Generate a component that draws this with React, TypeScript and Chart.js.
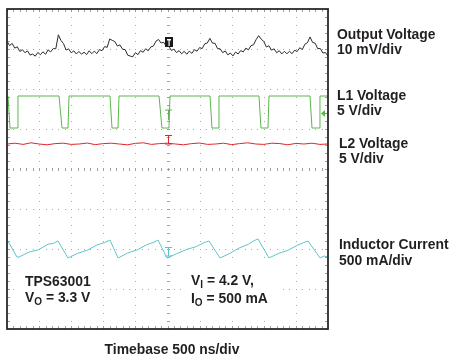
import React, { useEffect, useRef } from "react";
import { Chart, registerables } from "chart.js";

Chart.register(...registerables);

// ---- Scope settings ----
const TIME_PER_DIV_NS = 500;
const H_DIVS = 10;
const V_DIVS = 8;

// ---- Output voltage (mV, AC coupled), sampled every 40 ns ----
const OUT_SAMPLE_NS = 40;
const OUT_POS_DIV = 7.025;
const OUT_MV_PER_DIV = 10;
const OUT_MV = [
  1.7, 0.6, 1.15, -0.03, 0.3, -0.87, -0.43, -1.18, -0.72, -1.77,
  -1.52, -2.04, -1.11, -1.68, -0.95, -1.56, -0.47, -0.97, -0.15, -0.2,
  3.3, 1.9, 1.1, -0.5, -0.22, -1.21, -0.7, -1.5, -0.85, -1.55,
  -1.05, -1.65, -0.7, -1.43, -0.77, -1.4, -0.4, -0.67, 0.35, 0.16,
  2.26, 1.9, 1.6, 0.5, 0.77, -0.32, -0.38, -1.8, -2.02, -2.2,
  -1.17, -1.66, -0.66, -1.07, -0.18, -0.69, 0.27, 0.48, 1.71, 2.13,
  1.25, 1.44, 0.45, 0.51, -0.62, -0.27, -1.16, -0.65, -1.45, -0.82,
  -1.56, -0.79, -1.33, -0.42, -0.8, 0.11, -0.16, 1.04, 1.25, 2.4,
  1.23, 1.18, -0.17, -0.2, -1.17, -0.74, -1.71, -1.27, -1.97, -1.02,
  -1.49, -0.64, -0.98, -0.03, -0.47, 0.57, 0.82, 2.1, 3.08, 2.2,
  1.64, 0.25, 0.56, -0.55, -0.2, -1.19, -0.68, -1.48, -0.82, -1.46,
  -0.8, -1.43, -0.55, -0.89, 0.06, -0.38, 0.94, 1.34, 2.76, 1.4,
  1.2, -0.18, -0.12, -1.25, -1.13, -2.05,
];

// ---- L1 voltage (V) ----
const L1_POS_DIV = 5.025;
const L1_V_PER_DIV = 5;
const L1_T_NS = [
  0, 16, 47, 156, 171,
  810, 857, 950, 966,
  1604, 1636, 1729, 1745,
  2368, 2414, 2523, 2539,
  3162, 3193, 3287, 3302,
  3925, 3956, 4065, 4081,
  4720, 4751, 4860, 4875, 5000,
];
const L1_V = [
  4, 4, 0, 0, 4,
  4, 0, 0, 4,
  4, 0, 0, 4,
  4, 0, 0, 4,
  4, 0, 0, 4,
  4, 0, 0, 4,
  4, 0, 0, 4, 4,
];

// ---- L2 voltage (V), sampled every 125 ns ----
const L2_SAMPLE_NS = 125;
const L2_POS_DIV = 4.625;
const L2_V_PER_DIV = 5;
const L2_V = [
  0, 0.1, -0.05, 0.15, 0, -0.1, 0.05, 0.1, -0.05, 0,
  0.12, -0.08, 0.05, 0.1, 0, -0.1, 0.08, 0.15, -0.05, 0.05,
  0.1, 0, -0.1, 0.05, 0.12, -0.05, 0, 0.1, -0.08, 0.05,
  0.15, 0, -0.05, 0.1, 0.05, -0.1, 0.08, 0, 0.1, -0.05, 0,
];

// ---- Inductor current (mA, relative) ----
const IL_POS_DIV = 2.0;
const IL_MA_PER_DIV = 500;
const IL_T_NS = [
  0, 31, 156, 187, 340, 490, 640, 720, 794,
  950, 1100, 1250, 1400, 1520, 1604,
  1729, 1880, 2030, 2180, 2290, 2352,
  2492, 2640, 2800, 2950, 3070, 3146,
  3318, 3460, 3610, 3760, 3850, 3910,
  4081, 4230, 4380, 4530, 4620, 4689,
  4876, 4938, 5000,
];
const IL_MA = [
  100, 75, -100, -100, -40, -10, 60, 70, 100,
  -112, -55, -15, 50, 80, 112,
  -112, -50, -10, 55, 85, 112,
  -112, -60, -5, 30, 80, 100,
  -112, -60, 10, 60, 105, 125,
  -112, -55, -15, 50, 80, 100,
  -112, -88, -100,
];

const COLORS = {
  out: "#2b2b2b",
  l1: "#5db44f",
  l2: "#e0262b",
  il: "#5fc4c9",
};

const scopePlugin = {
  id: "scopeGrid",
  beforeDatasetsDraw(chart: any) {
    const { ctx, chartArea, scales } = chart;
    const { left, right, top, bottom } = chartArea;
    const x = scales.x;
    const y = scales.y;
    ctx.save();
    // dotted grid
    ctx.fillStyle = "#a8a8a8";
    for (let d = 1; d < H_DIVS; d++) {
      const px = Math.round(x.getPixelForValue(d * TIME_PER_DIV_NS));
      for (let s = 0; s <= V_DIVS * 5; s++) {
        const py = Math.round(y.getPixelForValue(s / 5));
        ctx.fillRect(px, py, 1, 1);
      }
    }
    for (let d = 1; d < V_DIVS; d++) {
      const py = Math.round(y.getPixelForValue(d));
      for (let s = 0; s <= H_DIVS * 5; s++) {
        const px = Math.round(x.getPixelForValue((s / 5) * TIME_PER_DIV_NS));
        ctx.fillRect(px, py, 1, 1);
      }
    }
    // center cross minor ticks + border ticks
    ctx.strokeStyle = "#a0a0a0";
    ctx.lineWidth = 1;
    const cx = Math.round(x.getPixelForValue((H_DIVS / 2) * TIME_PER_DIV_NS)) + 0.5;
    const cy = Math.round(y.getPixelForValue(V_DIVS / 2)) + 0.5;
    ctx.beginPath();
    for (let s = 0; s <= H_DIVS * 5; s++) {
      const px = Math.round(x.getPixelForValue((s / 5) * TIME_PER_DIV_NS)) + 0.5;
      ctx.moveTo(px, cy - 1.5);
      ctx.lineTo(px, cy + 1.5);
      ctx.moveTo(px, top);
      ctx.lineTo(px, top + 3);
      ctx.moveTo(px, bottom);
      ctx.lineTo(px, bottom - 3);
    }
    for (let s = 0; s <= V_DIVS * 5; s++) {
      const py = Math.round(y.getPixelForValue(s / 5)) + 0.5;
      ctx.moveTo(cx - 1.5, py);
      ctx.lineTo(cx + 1.5, py);
      ctx.moveTo(left, py);
      ctx.lineTo(left + 3, py);
      ctx.moveTo(right, py);
      ctx.lineTo(right - 3, py);
    }
    ctx.stroke();
    ctx.restore();
  },
  afterDatasetsDraw(chart: any) {
    const { ctx, chartArea, scales } = chart;
    const { left, right, top, bottom } = chartArea;
    const x = scales.x;
    const y = scales.y;
    ctx.save();
    const tx = Math.round(x.getPixelForValue((H_DIVS / 2) * TIME_PER_DIV_NS));
    // trigger box on output trace
    const ty = y.getPixelForValue(OUT_POS_DIV + 0.15);
    ctx.fillStyle = "#1a1a1a";
    ctx.fillRect(tx - 3, ty - 5, 8, 10);
    ctx.fillStyle = "#ffffff";
    ctx.fillRect(tx - 1, ty - 3, 4, 1.5);
    ctx.fillRect(tx + 0.5, ty - 3, 1.2, 7);
    // green trigger level marker
    ctx.strokeStyle = COLORS.l1;
    ctx.lineWidth = 1;
    const gy = y.getPixelForValue(L1_POS_DIV + 0.45);
    ctx.beginPath();
    ctx.moveTo(tx - 3, gy);
    ctx.lineTo(tx + 4, gy);
    ctx.moveTo(tx + 0.5, gy);
    ctx.lineTo(tx + 0.5, gy + 10);
    ctx.stroke();
    // red marker
    const ry = y.getPixelForValue(L2_POS_DIV);
    ctx.strokeStyle = COLORS.l2;
    ctx.beginPath();
    ctx.moveTo(tx - 3, ry - 8.5);
    ctx.lineTo(tx + 4, ry - 8.5);
    ctx.moveTo(tx + 0.5, ry - 8.5);
    ctx.lineTo(tx + 0.5, ry);
    ctx.moveTo(tx - 3, ry);
    ctx.lineTo(tx + 4, ry);
    ctx.stroke();
    // cyan marker
    const iy = y.getPixelForValue(IL_POS_DIV);
    ctx.strokeStyle = COLORS.il;
    ctx.beginPath();
    ctx.moveTo(tx - 3, iy - 1.5);
    ctx.lineTo(tx + 4, iy - 1.5);
    ctx.moveTo(tx + 0.5, iy - 1.5);
    ctx.lineTo(tx + 0.5, iy + 7);
    ctx.moveTo(tx - 3, iy + 7);
    ctx.lineTo(tx + 4, iy + 7);
    ctx.stroke();
    // green arrow on right
    const ay = Math.round(y.getPixelForValue(L1_POS_DIV + 0.38)) + 0.5;
    ctx.strokeStyle = COLORS.l1;
    ctx.fillStyle = COLORS.l1;
    ctx.beginPath();
    ctx.moveTo(right - 6, ay);
    ctx.lineTo(right, ay);
    ctx.stroke();
    ctx.beginPath();
    ctx.moveTo(right - 7, ay);
    ctx.lineTo(right - 3, ay - 3.5);
    ctx.lineTo(right - 3, ay + 3.5);
    ctx.closePath();
    ctx.fill();
    // frame
    ctx.strokeStyle = "#2a2a2a";
    ctx.lineWidth = 1.8;
    ctx.strokeRect(left, top, right - left, bottom - top);
    ctx.restore();
  },
};

const FONT = 'bold 13.9px "Liberation Sans", Arial, Helvetica, sans-serif';
const TEXT_COLOR = "#231f20";

const Label = ({ left, top, lh = 15, children, bg }: any) => (
  <div
    style={{
      position: "absolute",
      left,
      top,
      font: FONT,
      lineHeight: lh + "px",
      color: TEXT_COLOR,
      whiteSpace: "nowrap",
      background: bg || "transparent",
    }}
  >
    {children}
  </div>
);

const Sub = ({ children }: any) => (
  <span style={{ fontSize: "10px", position: "relative", top: "3px", lineHeight: 0 }}>{children}</span>
);

export default function App() {
  const ref = useRef<HTMLCanvasElement | null>(null);

  useEffect(() => {
    if (!ref.current) return;
    const outData = OUT_MV.map((v, i) => ({ x: i * OUT_SAMPLE_NS, y: OUT_POS_DIV + v / OUT_MV_PER_DIV }));
    const l1Data = L1_V.map((v, i) => ({ x: L1_T_NS[i], y: L1_POS_DIV + v / L1_V_PER_DIV }));
    const l2Data = L2_V.map((v, i) => ({ x: i * L2_SAMPLE_NS, y: L2_POS_DIV + v / L2_V_PER_DIV }));
    const ilData = IL_MA.map((v, i) => ({ x: IL_T_NS[i], y: IL_POS_DIV + v / IL_MA_PER_DIV }));
    const mk = (label: string, data: any, color: string) => ({
      label,
      data,
      borderColor: color,
      backgroundColor: color,
      borderWidth: 1,
      pointRadius: 0,
      showLine: true,
      tension: 0,
    });
    const chart = new Chart(ref.current, {
      type: "scatter",
      data: {
        datasets: [
          mk("Inductor Current", ilData, COLORS.il),
          mk("L2 Voltage", l2Data, COLORS.l2),
          mk("L1 Voltage", l1Data, COLORS.l1),
          mk("Output Voltage", outData, COLORS.out),
        ],
      },
      options: {
        animation: false,
        responsive: false,
        devicePixelRatio: 1,
        layout: { padding: { left: 7, top: 9, right: 130, bottom: 32 } },
        plugins: { legend: { display: false }, tooltip: { enabled: false } },
        scales: {
          x: { type: "linear", display: false, min: 0, max: H_DIVS * TIME_PER_DIV_NS },
          y: { type: "linear", display: false, min: 0, max: V_DIVS },
        },
      },
      plugins: [scopePlugin],
    });
    return () => chart.destroy();
  }, []);

  return (
    <div style={{ position: "absolute", left: 0, top: 0, width: 458, height: 361, background: "#fff" }}>
      <canvas ref={ref} width={458} height={361} style={{ position: "absolute", left: 0, top: 0 }} />
      <Label left={337} top={27}>Output Voltage<br />10 mV/div</Label>
      <Label left={337} top={88}>L1 Voltage<br />5 V/div</Label>
      <Label left={339} top={136}>L2 Voltage<br />5 V/div</Label>
      <Label left={339} top={236} lh={16}>Inductor Current<br />500 mA/div</Label>
      <div style={{ position: "absolute", left: 15, top: 263, width: 85, height: 53, background: "#fff" }} />
      <Label left={25} top={273} lh={16}>TPS63001<br />V<Sub>O</Sub> = 3.3 V</Label>
      <div style={{ position: "absolute", left: 182, top: 265, width: 97, height: 52, background: "#fff" }} />
      <Label left={191} top={271} lh={18}>V<Sub>I</Sub> = 4.2 V,<br />I<Sub>O</Sub> = 500 mA</Label>
      <div
        style={{
          position: "absolute",
          left: 0,
          width: 344,
          top: 341,
          textAlign: "center",
          font: FONT,
          lineHeight: "16px",
          color: TEXT_COLOR,
        }}
      >
        Timebase 500 ns/div
      </div>
    </div>
  );
}
